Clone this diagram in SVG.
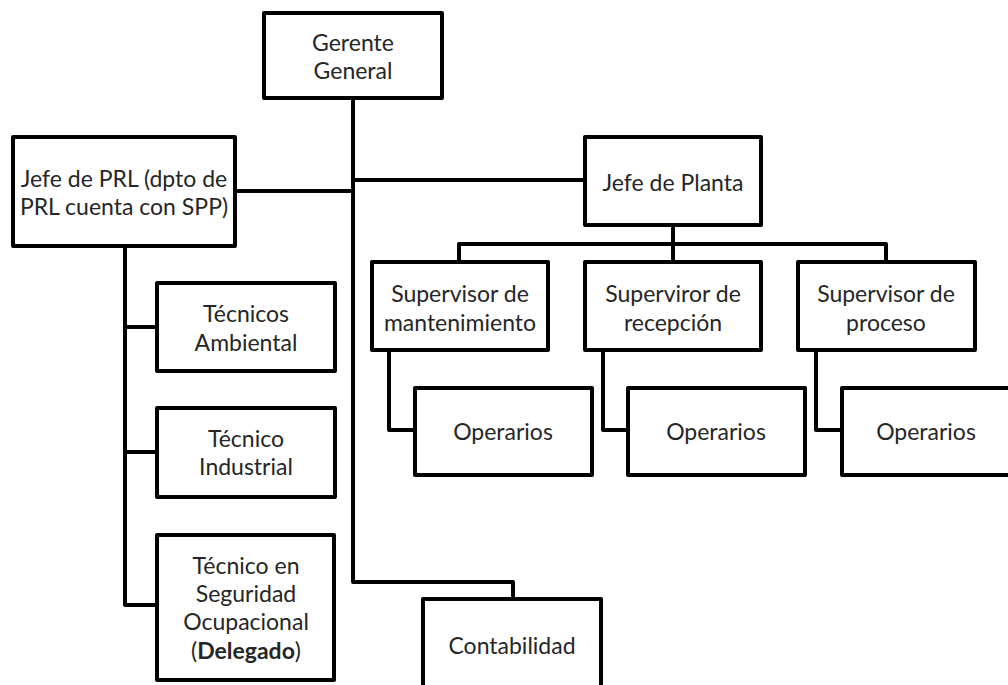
<svg xmlns="http://www.w3.org/2000/svg" width="1008" height="685" viewBox="0 0 1008 685">
<style>
.box{fill:#fff;stroke:#000;stroke-width:4;stroke-linejoin:round}
.ln{fill:none;stroke:#000;stroke-width:4;stroke-linejoin:round}
text{font-family:Lato,"Open Sans","Liberation Sans",sans-serif;font-size:23px;fill:#262626;text-anchor:middle;dominant-baseline:central}
.b{font-weight:bold}
</style>
<rect width="1008" height="685" fill="#fff"/>
<g id="connectors">
<path class="ln" d="M353 98V582H513V599"/>
<path class="ln" d="M235 191H353"/>
<path class="ln" d="M353 180H585"/>
<path class="ln" d="M125 246V605H157M125 327H157M125 452H157"/>
<path class="ln" d="M673 225V244M459 262V244H886V262M673 244V262"/>
<path class="ln" d="M389 350V430H415"/>
<path class="ln" d="M603 350V430H628"/>
<path class="ln" d="M816 350V430H842"/>
</g>
<g id="gerente"><rect class="box" x="264" y="13" width="178" height="85"/><text x="353" y="42">Gerente</text><text x="353" y="70">General</text></g>
<g id="jefe-prl"><rect class="box" x="13" y="137" width="222" height="109"/><text x="124" y="178">Jefe de PRL (dpto de</text><text x="124" y="206">PRL cuenta con SPP)</text></g>
<g id="jefe-planta"><rect class="box" x="585" y="137" width="176" height="88"/><text x="673" y="182">Jefe de Planta</text></g>
<g id="sup-mant"><rect class="box" x="372" y="262" width="176" height="88"/><text x="460" y="293">Supervisor de</text><text x="460" y="322">mantenimiento</text></g>
<g id="sup-recep"><rect class="box" x="585" y="262" width="176" height="88"/><text x="673" y="293">Superviror de</text><text x="673" y="322">recepción</text></g>
<g id="sup-proc"><rect class="box" x="798" y="262" width="177" height="88"/><text x="886" y="293">Supervisor de</text><text x="886" y="322">proceso</text></g>
<g id="oper-1"><rect class="box" x="415" y="388" width="177" height="87"/><text x="503" y="431">Operarios</text></g>
<g id="oper-2"><rect class="box" x="628" y="388" width="177" height="87"/><text x="716" y="431">Operarios</text></g>
<g id="oper-3"><rect class="box" x="842" y="388" width="177" height="87"/><text x="926" y="431">Operarios</text></g>
<g id="tec-amb"><rect class="box" x="157" y="283" width="178" height="88"/><text x="246" y="313">Técnicos</text><text x="246" y="342">Ambiental</text></g>
<g id="tec-ind"><rect class="box" x="157" y="408" width="178" height="89"/><text x="246" y="438">Técnico</text><text x="246" y="466">Industrial</text></g>
<g id="tec-seg"><rect class="box" x="157" y="535" width="177" height="145"/><text x="246" y="565">Técnico en</text><text x="246" y="593">Seguridad</text><text x="246" y="621">Ocupacional</text><text x="246" y="650">(<tspan class="b">Delegado</tspan>)</text></g>
<g id="contabilidad"><rect class="box" x="423" y="599" width="178" height="110"/><text x="512" y="645">Contabilidad</text></g>
</svg>
